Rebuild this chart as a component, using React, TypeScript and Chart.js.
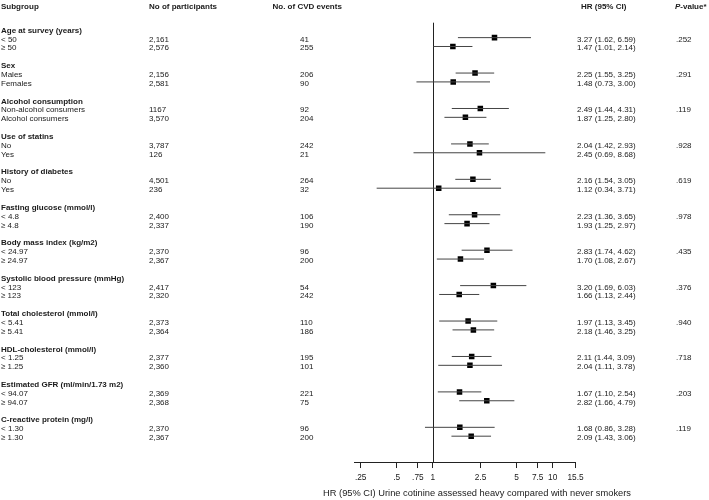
import React, { useEffect, useRef } from "react";
import { Chart, registerables } from "chart.js";

Chart.register(...registerables);

const groupNames = [
  "Age at survey (years)",
  "Sex",
  "Alcohol consumption",
  "Use of statins",
  "History of diabetes",
  "Fasting glucose (mmol/l)",
  "Body mass index (kg/m2)",
  "Systolic blood pressure (mmHg)",
  "Total cholesterol (mmol/l)",
  "HDL-cholesterol (mmol/l)",
  "Estimated GFR (ml/min/1.73 m2)",
  "C-reactive protein (mg/l)",
];

const subgroupLabels = [
  "< 50", "≥ 50",
  "Males", "Females",
  "Non-alcohol consumers", "Alcohol consumers",
  "No", "Yes",
  "No", "Yes",
  "< 4.8", "≥ 4.8",
  "< 24.97", "≥ 24.97",
  "< 123", "≥ 123",
  "< 5.41", "≥ 5.41",
  "< 1.25", "≥ 1.25",
  "< 94.07", "≥ 94.07",
  "< 1.30", "≥ 1.30",
];

const participants = [
  "2,161", "2,576", "2,156", "2,581", "1167", "3,570", "3,787", "126",
  "4,501", "236", "2,400", "2,337", "2,370", "2,367", "2,417", "2,320",
  "2,373", "2,364", "2,377", "2,360", "2,369", "2,368", "2,370", "2,367",
];

const cvdEvents = [
  41, 255, 206, 90, 92, 204, 242, 21, 264, 32, 106, 190,
  96, 200, 54, 242, 110, 186, 195, 101, 221, 75, 96, 200,
];

const hrValues = [
  3.27, 1.47, 2.25, 1.48, 2.49, 1.87, 2.04, 2.45, 2.16, 1.12, 2.23, 1.93,
  2.83, 1.70, 3.20, 1.66, 1.97, 2.18, 2.11, 2.04, 1.67, 2.82, 1.68, 2.09,
];

const ciLower = [
  1.62, 1.01, 1.55, 0.73, 1.44, 1.25, 1.42, 0.69, 1.54, 0.34, 1.36, 1.25,
  1.74, 1.08, 1.69, 1.13, 1.13, 1.46, 1.44, 1.11, 1.10, 1.66, 0.86, 1.43,
];

const ciUpper = [
  6.59, 2.14, 3.25, 3.00, 4.31, 2.80, 2.93, 8.68, 3.05, 3.71, 3.65, 2.97,
  4.62, 2.67, 6.03, 2.44, 3.45, 3.25, 3.09, 3.78, 2.54, 4.79, 3.28, 3.06,
];

const pValues = [
  ".252", ".291", ".119", ".928", ".619", ".978",
  ".435", ".376", ".940", ".718", ".203", ".119",
];

const xTickValues = [0.25, 0.5, 0.75, 1, 2.5, 5, 7.5, 10, 15.5];

const axisTitle = "HR (95% CI) Urine cotinine assessed heavy compared with never smokers";

const FONT = '"Liberation Sans", Arial, Helvetica, sans-serif';
const TEXT_COLOR = "#1a1a1a";

// row index (in line units) for each subgroup row
const rowLine = (r: number) => Math.floor(r / 2) * 4 + 1 + (r % 2);
const groupLine = (g: number) => g * 4;

const fmt = (v: number) => v.toFixed(2);

export default function App() {
  const canvasRef = useRef<HTMLCanvasElement | null>(null);

  useEffect(() => {
    const canvas = canvasRef.current;
    if (!canvas) return;

    const ciData: any[] = [];
    subgroupLabels.forEach((_, r) => {
      ciData.push({ x: ciLower[r], y: rowLine(r) });
      ciData.push({ x: ciUpper[r], y: rowLine(r) });
      ciData.push({ x: NaN, y: NaN });
    });
    const pointData = hrValues.map((v, r) => ({ x: v, y: rowLine(r) }));

    const textPlugin = {
      id: "forestText",
      beforeDatasetsDraw(chart: any) {
        const { ctx, chartArea, scales } = chart;
        const x1 = scales.x.getPixelForValue(1);
        ctx.save();
        ctx.strokeStyle = "#222";
        ctx.lineWidth = 1;
        ctx.beginPath();
        ctx.moveTo(Math.round(x1) + 0.5, chartArea.top);
        ctx.lineTo(Math.round(x1) + 0.5, chartArea.bottom);
        ctx.stroke();
        ctx.restore();
      },
      afterDraw(chart: any) {
        const { ctx, scales } = chart;
        const yS = scales.y;
        const base = (line: number) => yS.getPixelForValue(line) + 4;
        ctx.save();
        ctx.fillStyle = TEXT_COLOR;
        ctx.textBaseline = "alphabetic";
        ctx.textAlign = "left";

        // column headers
        const headBase = 9;
        ctx.font = `bold 8px ${FONT}`;
        ctx.fillText("Subgroup", 1, headBase);
        ctx.fillText("No of participants", 149, headBase);
        ctx.fillText("No. of CVD events", 272.5, headBase);
        ctx.fillText("HR (95% CI)", 581, headBase);
        ctx.font = `italic bold 8px ${FONT}`;
        ctx.fillText("P", 675, headBase);
        const pw = ctx.measureText("P").width;
        ctx.font = `bold 8px ${FONT}`;
        ctx.fillText("-value*", 675 + pw, headBase);

        // groups
        groupNames.forEach((name, g) => {
          ctx.font = `bold 8px ${FONT}`;
          ctx.fillText(name, 1, base(groupLine(g)));
          ctx.font = `8px ${FONT}`;
          ctx.fillText(pValues[g], 676, base(rowLine(g * 2)));
        });

        ctx.font = `8px ${FONT}`;
        subgroupLabels.forEach((lab, r) => {
          const b = base(rowLine(r));
          ctx.fillText(lab, 1, b);
          ctx.fillText(participants[r], 149, b);
          ctx.fillText(String(cvdEvents[r]), 300, b);
          ctx.fillText(`${fmt(hrValues[r])} (${fmt(ciLower[r])}, ${fmt(ciUpper[r])})`, 577, b);
        });

        // axis title
        ctx.font = `9.3px ${FONT}`;
        ctx.textAlign = "center";
        ctx.fillText(axisTitle, 477, 495.5);
        ctx.restore();
      },
    };

    const chart = new Chart(canvas, {
      type: "scatter",
      data: {
        datasets: [
          {
            type: "line",
            data: ciData,
            borderColor: "#444",
            borderWidth: 1,
            pointRadius: 0,
            spanGaps: false,
            fill: false,
          } as any,
          {
            type: "scatter",
            data: pointData,
            pointStyle: "rect",
            pointRadius: 3.9,
            backgroundColor: "#000",
            borderColor: "#000",
            borderWidth: 0,
          } as any,
        ],
      },
      options: {
        responsive: false,
        animation: false,
        events: [],
        layout: { padding: { left: 354, right: 133.5, top: 22.7, bottom: 12 } },
        plugins: {
          legend: { display: false },
          tooltip: { enabled: false },
        },
        scales: {
          x: {
            type: "logarithmic",
            min: 0.22,
            max: 15.5,
            position: "bottom",
            grid: {
              display: true,
              drawOnChartArea: false,
              drawTicks: true,
              tickLength: 6,
              color: "#222",
            },
            border: { display: true, color: "#222", width: 1 },
            afterBuildTicks: (axis: any) => {
              axis.ticks = xTickValues.map((v) => ({ value: v }));
            },
            ticks: {
              autoSkip: false,
              maxRotation: 0,
              minRotation: 0,
              padding: 5,
              color: TEXT_COLOR,
              font: { family: FONT, size: 8.3 },
              callback: (v: any) => String(v).replace(/^0\./, "."),
            },
          },
          y: {
            type: "linear",
            display: false,
            reverse: true,
            min: -0.686,
            max: 48.92,
          },
        },
      } as any,
      plugins: [textPlugin],
    });

    return () => chart.destroy();
  }, []);

  return (
    <div style={{ position: "fixed", left: 0, top: 0, width: 709, height: 500, background: "#fff" }}>
      <canvas ref={canvasRef} width={709} height={500} style={{ display: "block" }} />
    </div>
  );
}
